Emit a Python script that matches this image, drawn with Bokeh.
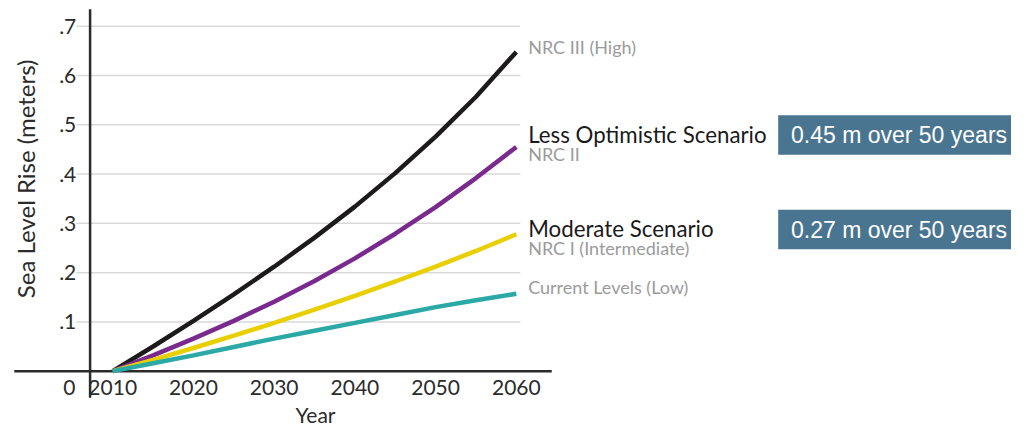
import math
from bokeh.plotting import figure
from bokeh.models import Range1d
from bokeh.core.properties import value
from bokeh.embed import file_html
from bokeh.resources import INLINE

# ---------------- data ----------------
years = [2010, 2015, 2020, 2025, 2030, 2035, 2040, 2045, 2050, 2055, 2060]
nrc_iii = [0.0, 0.050, 0.102, 0.156, 0.212, 0.271, 0.334, 0.402, 0.476, 0.557, 0.648]
nrc_ii = [0.0, 0.032, 0.066, 0.102, 0.141, 0.183, 0.229, 0.279, 0.333, 0.392, 0.455]
nrc_i = [0.0, 0.023, 0.047, 0.072, 0.098, 0.125, 0.153, 0.182, 0.212, 0.244, 0.278]
current = [0.0, 0.016, 0.032, 0.049, 0.066, 0.082, 0.098, 0.114, 0.130, 0.144, 0.157]

series_labels = ["NRC III (High)", "NRC II", "NRC I  (Intermediate)", "Current Levels (Low)"]
scenario_labels = ["Less Optimistic Scenario", "Moderate Scenario"]
scenario_notes = ["0.45 m over 50 years", "0.27 m over 50 years"]

y_ticks = [0.1, 0.2, 0.3, 0.4, 0.5, 0.6, 0.7]
y_tick_labels = [".1", ".2", ".3", ".4", ".5", ".6", ".7"]
x_ticks = [2010, 2020, 2030, 2040, 2050, 2060]
x_tick_labels = ["2010", "2020", "2030", "2040", "2050", "2060"]

# ---------------- geometry (reference pixels -> data) ----------------
W, H = 1011, 428
REF_W, REF_H = 1027, 444
X0_YEAR, X0_PX = 2010, 114.0
PX_PER_YEAR = 8.2
Y0_PX = 384.5
PX_PER_M = 511.0


def xd(px):
    return X0_YEAR + (px - X0_PX) / PX_PER_YEAR


def yd(py):
    return (Y0_PX - py) / PX_PER_M


FONT = value("Lato")
DARK = "#2b2b2b"
GREY = "#9b9b9b"

p = figure(width=W, height=H,
           x_range=Range1d(xd(0), xd(REF_W)),
           y_range=Range1d(yd(REF_H), yd(0)),
           output_backend="svg", toolbar_location=None,
           x_axis_location=None, y_axis_location=None,
           min_border=0)
p.grid.visible = False
p.outline_line_color = None
p.background_fill_color = "white"
p.border_fill_color = "white"

# grid lines
p.segment(x0=[xd(77)] * len(y_ticks), y0=y_ticks, x1=[xd(528)] * len(y_ticks), y1=y_ticks,
          line_color="#d9d9d9", line_width=1.5)

# axes lines
p.segment(x0=[xd(14)], y0=[0], x1=[xd(560)], y1=[0], line_color=DARK, line_width=2.5)
p.segment(x0=[xd(91)], y0=[yd(412)], x1=[xd(91)], y1=[yd(9)], line_color=DARK, line_width=2.5)

# series
p.line(years, nrc_iii, line_color="#1c1a1b", line_width=4.5)
p.line(years, nrc_ii, line_color="#7a2a8f", line_width=4.5)
p.line(years, nrc_i, line_color="#e9cf00", line_width=4.5)
p.line(years, current, line_color="#2aa9a6", line_width=4.5)

# tick labels
p.text(x=[xd(77)] * len(y_ticks), y=y_ticks, text=y_tick_labels, text_font=FONT,
       text_font_size="21px", text_color=DARK, text_align="right", text_baseline="middle")
p.text(x=x_ticks, y=[yd(401)] * len(x_ticks), text=x_tick_labels, text_font=FONT,
       text_font_size="21px", text_color=DARK, text_align="center", text_baseline="middle")
p.text(x=[xd(70)], y=[yd(401)], text=["0"], text_font=FONT,
       text_font_size="21px", text_color=DARK, text_align="center", text_baseline="middle")

# axis titles
p.text(x=[xd(320)], y=[yd(442)], text=["Year"], text_font=FONT,
       text_font_size="21px", text_color=DARK, text_align="center", text_baseline="bottom")
p.text(x=[xd(25)], y=[yd(185)], text=["Sea Level Rise (meters)"], text_font=FONT,
       text_font_size="24px", text_color=DARK, text_align="center", text_baseline="middle",
       angle=math.pi / 2)

# series labels (grey)
p.text(x=[xd(536)] * 4, y=[yd(48), yd(159), yd(257), yd(297)], text=series_labels,
       text_font=FONT, text_font_size="18px", text_color=GREY,
       text_align="left", text_baseline="middle")

# scenario labels (black)
p.text(x=[xd(536)] * 2, y=[yd(139), yd(237)], text=scenario_labels,
       text_font=FONT, text_font_size="22.3px", text_color="#1a1a1a",
       text_align="left", text_baseline="middle")

# note boxes
p.quad(left=[xd(790)] * 2, right=[xd(1030)] * 2, top=[yd(119), yd(217)], bottom=[yd(160), yd(258)],
       fill_color="#4a7591", line_color=None)
p.text(x=[xd(803)] * 2, y=[yd(140), yd(238)], text=scenario_notes,
       text_font=value("Liberation Sans"), text_font_size="23px", text_color="white",
       text_align="left", text_baseline="middle")

open("out.html", "w").write(file_html(p, INLINE))
